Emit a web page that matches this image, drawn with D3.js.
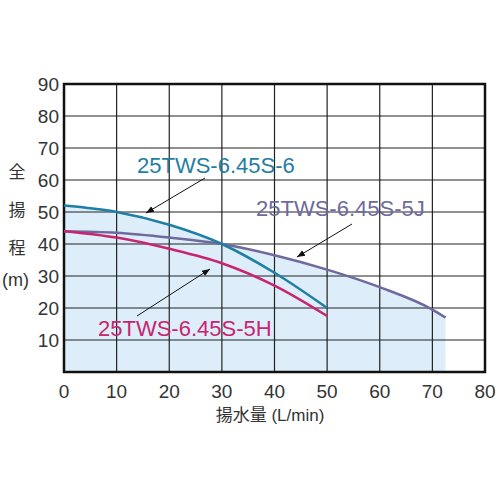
<!DOCTYPE html><html><head><meta charset="utf-8"><script src="https://cdn.jsdelivr.net/npm/d3@7"></script>
<style>body{margin:0;background:#fff}text{font-family:"Liberation Sans","Noto Sans CJK JP",sans-serif}</style></head><body><svg id="c" width="500" height="500"></svg><script>
const xTicks=[0,10,20,30,40,50,60,70,80];
const yTicks=[10,20,30,40,50,60,70,80,90];
const s6x=[0,10,20,30,40,50], s6y=[52,50,46,40,31,20];
const s5jx=[0,10,20,30,40,50,60,70,72.5], s5jy=[44,43.5,42,40,36.5,32,26.5,19.5,17];
const s5hx=[0,10,20,30,40,50], s5hy=[44,42,38.5,34,27,17.5];
const envX=[0,10,20,30,40,50,60,70,72.5], envY=[52,50,46,40,36.5,32,26.5,19.5,17];
const svg=d3.select("#c");
const x=d3.scaleLinear().domain([0,80]).range([64,485]);
const y=d3.scaleLinear().domain([0,90]).range([372,84]);
const cv=d3.curveMonotoneX;
svg.append("path").datum(envX.map((v,i)=>[v,envY[i]])).attr("fill","#ddeefa")
 .attr("d",d3.area().x(d=>x(d[0])).y0(y(0)).y1(d=>y(d[1])).curve(cv));
const g=svg.append("g");
xTicks.forEach(t=>g.append("line").attr("x1",x(t)).attr("x2",x(t)).attr("y1",y(0)).attr("y2",y(90)).attr("stroke","#222").attr("stroke-width",1.2));
yTicks.forEach(t=>g.append("line").attr("x1",x(0)).attr("x2",x(80)).attr("y1",y(t)).attr("y2",y(t)).attr("stroke","#222").attr("stroke-width",1.2));
svg.append("rect").attr("x",x(0)).attr("y",y(90)).attr("width",x(80)-x(0)).attr("height",y(0)-y(90)).attr("fill","none").attr("stroke","#111").attr("stroke-width",2.5);
const line=d3.line().x(d=>x(d[0])).y(d=>y(d[1])).curve(cv);
[[s5jx,s5jy,"#6e6a9e"],[s6x,s6y,"#1f7ea3"],[s5hx,s5hy,"#c8246f"]].forEach(([xs,ys,c])=>
 svg.append("path").datum(xs.map((v,i)=>[v,ys[i]])).attr("fill","none").attr("stroke",c).attr("stroke-width",2.5).attr("d",line));
xTicks.forEach(t=>svg.append("text").attr("x",x(t)).attr("y",398).attr("text-anchor","middle").attr("font-size",19).attr("fill","#333").text(t));
yTicks.forEach(t=>svg.append("text").attr("x",59).attr("y",y(t)+7).attr("text-anchor","end").attr("font-size",19).attr("fill","#333").text(t));
svg.append("text").attr("x",270).attr("y",421).attr("text-anchor","middle").attr("font-size",17).attr("fill","#333").text("揚水量 (L/min)");
[["全",178],["揚",216],["程",254]].forEach(([c,yy])=>svg.append("text").attr("x",17).attr("y",yy).attr("text-anchor","middle").attr("font-size",17).attr("fill","#333").text(c));
svg.append("text").attr("x",2).attr("y",286).attr("font-size",18).attr("fill","#333").text("(m)");
svg.append("defs").append("marker").attr("id","a").attr("viewBox","0 0 10 10").attr("refX",10).attr("refY",5).attr("markerWidth",8).attr("markerHeight",8).attr("orient","auto").append("path").attr("d","M0,1L10,5L0,9z").attr("fill","#111");
[[205,178,146,213],[352,224,297,257],[137,316,210,269]].forEach(([a,b,c,d])=>svg.append("line").attr("x1",a).attr("y1",b).attr("x2",c).attr("y2",d).attr("stroke","#111").attr("stroke-width",1).attr("marker-end","url(#a)"));
[["25TWS-6.45S-6",137,173,"#1f7ea3"],["25TWS-6.45S-5J",256,216,"#6e6a9e"],["25TWS-6.45S-5H",98,336,"#c8246f"]].forEach(([t,a,b,c])=>
 svg.append("text").attr("x",a).attr("y",b).attr("font-size",22).attr("fill",c).text(t));
</script></body></html>
